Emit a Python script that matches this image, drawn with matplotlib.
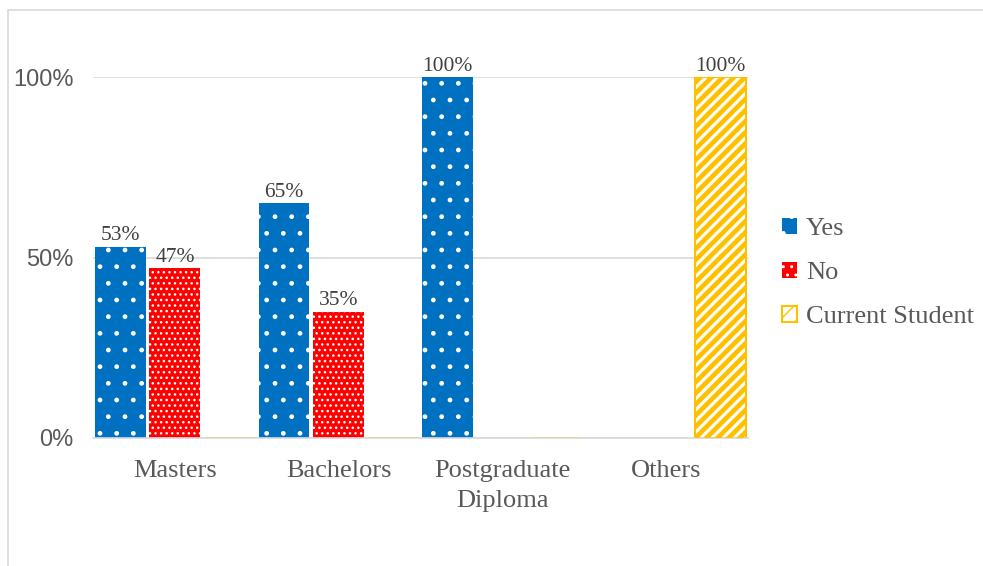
import numpy as np
import matplotlib
matplotlib.use("Agg")
from matplotlib import pyplot as plt
from matplotlib.patches import Rectangle, Patch
from matplotlib.ticker import PercentFormatter

categories = ["Masters", "Bachelors", "Postgraduate\nDiploma", "Others"]
series_names = ["Yes", "No", "Current Student"]
yes_vals = [53, 65, 100, 0]
no_vals = [47, 35, 0, 0]
student_vals = [0, 0, 0, 100]

colors = ["#0070C0", "#FF0000", "#FFC000"]
hatches = [".", "...", "///"]
serif = ["Liberation Serif", "DejaVu Serif"]
sans = ["Liberation Sans", "DejaVu Sans"]
gray = "#595959"

fig = plt.figure(figsize=(9.83, 5.66), dpi=100)
ax = fig.add_axes([93/983, 1-438/566, (748-93)/983, (438-77)/566])

x = np.arange(len(categories))
w = 0.31
offsets = [-1/3, 0, 1/3]
all_vals = [yes_vals, no_vals, student_vals]


def hatched_bars(xs, heights, color, hatch, hlw):
    with plt.rc_context({"hatch.linewidth": hlw}):
        bars = ax.bar(xs, heights, w, fill=False, edgecolor=color, hatch=hatch, lw=0, zorder=3)
    for b in bars:
        if hasattr(b, "set_hatch_linewidth"):
            b.set_hatch_linewidth(hlw)


for i, vals in enumerate(all_vals):
    v = np.array(vals) / 100
    if i == 2:
        # white bar with yellow stripes and outline
        ax.bar(x + offsets[i], v, w, color="white", edgecolor=colors[i], lw=1.5, zorder=2)
        hatched_bars(x + offsets[i], v, colors[i], hatches[i], 3.4)
    else:
        ax.bar(x + offsets[i], v, w, color=colors[i], lw=0, zorder=2)
        hatched_bars(x + offsets[i], v, "white", hatches[i], 1.0)
    for xi, val in zip(x, vals):
        if val > 0:
            ax.annotate(f"{val}%", (xi + offsets[i], val / 100), xytext=(0, 1),
                        textcoords="offset points", ha="center", va="bottom",
                        fontsize=15.5, family=serif, color="#404040", clip_on=False)

ax.set_xlim(-0.5, 3.5)
ax.set_ylim(0, 1)
ax.set_yticks([0, 0.5, 1])
ax.yaxis.set_major_formatter(PercentFormatter(1.0, decimals=0))
ax.set_xticks(x)
ax.set_xticklabels(categories, family=serif, fontsize=19, color=gray, linespacing=1.45)
for t in ax.get_yticklabels():
    t.set_family(sans)
    t.set_fontsize(17)
    t.set_color(gray)
ax.tick_params(axis="x", length=0, pad=16)
ax.tick_params(axis="y", length=0, pad=14)
ax.grid(axis="y", color="#D9D9D9", lw=1.2, zorder=0)
ax.set_axisbelow(True)
for s in ["top", "right", "left"]:
    ax.spines[s].set_visible(False)
ax.spines["bottom"].set_color("#D9D9D9")
ax.spines["bottom"].set_linewidth(1.2)

handles = [
    Patch(facecolor=colors[0], edgecolor="white", hatch=".", lw=0),
    Patch(facecolor=colors[1], edgecolor="white", hatch="..", lw=0),
    Patch(facecolor="white", edgecolor=colors[2], hatch="//", lw=1.5),
]
leg = fig.legend(handles, series_names, loc="center left", bbox_to_anchor=(777/983, 1-273/566),
                 frameon=False, prop={"family": serif, "size": 19}, handlelength=0.55,
                 handleheight=0.55, handletextpad=0.35, labelspacing=0.82, borderpad=0.2,
                 borderaxespad=0)
for t in leg.get_texts():
    t.set_color(gray)

# outer chart border
fig.patches.append(Rectangle((8/983, -0.1), 1.2, 1.1 - 10/566, transform=fig.transFigure,
                             facecolor="none", edgecolor="#D9D9D9", lw=1.2))

fig.savefig("out.png", dpi=100)
